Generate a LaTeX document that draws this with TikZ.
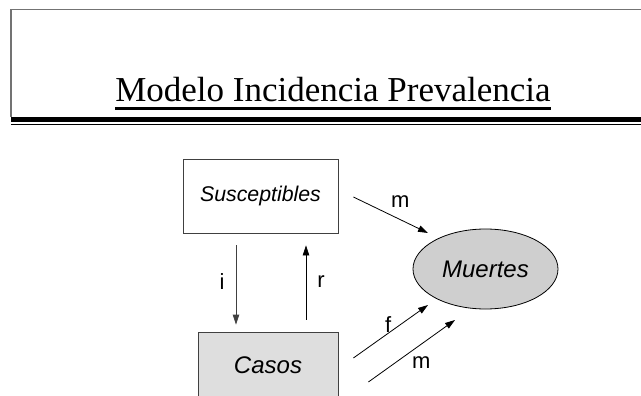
\documentclass[tikz,border=0pt]{standalone}
\usepackage{fontspec}
\setmainfont{Liberation Serif}
\setsansfont{Liberation Sans}
\usetikzlibrary{positioning,calc,shapes.geometric,arrows.meta}

\begin{document}
\begin{tikzpicture}[x=1pt,y=-1pt,
  box/.style={draw=black!75, line width=0.8pt, inner sep=0pt, font=\sffamily\itshape\fontsize{21.3}{25}\selectfont},
  flow/.style={line width=0.8pt, -{Triangle[length=10pt,width=6.5pt]}},
  lbl/.style={inner sep=0pt, text=black, font=\sffamily\fontsize{22}{26}\selectfont}]

\useasboundingbox (0,0) rectangle (641,396);

\draw[black!55, line width=1.5pt] (641,9.5) -- (11,9.5) -- (11,117);
\draw[line width=4.5pt] (11,119.6) -- (641,119.6);
\draw[line width=1.4pt] (11,124.8) -- (641,124.8);
\node[inner sep=0pt, anchor=base, font=\fontsize{35}{40}\selectfont] (title) at (333,102) {Modelo Incidencia Prevalencia};
\draw[line width=2.5pt] ([yshift=-6.3pt]title.base west) -- ([yshift=-6.3pt]title.base east);

\node[box, minimum width=155pt, minimum height=74pt] (sus) at (260.5,196) {Susceptibles\hspace{6pt}};
\node[box, fill=black!13, minimum width=140pt, minimum height=66pt, font=\sffamily\itshape\fontsize{24}{28}\selectfont] (casos) at (268,365) {Casos\hspace{10pt}};
\node[box, ellipse, draw=black, fill=black!19, minimum width=145pt, minimum height=80pt, font=\sffamily\itshape\fontsize{24}{28}\selectfont] (muertes) at (485.5,269) {Muertes};

\coordinate (i-top) at ($(sus.south)+(-24.5,12)$);
\coordinate (i-bot) at ($(casos.north)+(-32,-7)$);
\coordinate (r-bot) at ($(casos.north)+(38,-12)$);
\coordinate (r-top) at ($(sus.south)+(45.5,12)$);
\coordinate (m1-a) at ($(sus.east)+(15,1)$);
\coordinate (m1-b) at ($(muertes.center)+(-57.5,-36)$);
\coordinate (f-a) at ($(casos.east)+(15,-7)$);
\coordinate (f-b) at ($(muertes.center)+(-57.5,36)$);
\coordinate (m2-a) at ($(casos.east)+(30,17)$);
\coordinate (m2-b) at ($(muertes.center)+(-30.5,51)$);

\draw[flow, black!75] (i-top) -- (i-bot) node[lbl, midway, xshift=-14pt, yshift=3pt] (lbl-i) {i};
\draw[flow] (r-bot) -- (r-top) node[lbl, midway, xshift=15pt, yshift=1pt] (lbl-r) {r};
\draw[flow] (m1-a) -- (m1-b) node[lbl, midway, xshift=9.5pt, yshift=13pt] (lbl-m1) {m};
\draw[flow] (f-a) -- (f-b) node[lbl, midway, xshift=-2.5pt, yshift=7pt] (lbl-f) {f};
\draw[flow] (m2-a) -- (m2-b) node[lbl, midway, xshift=9.5pt, yshift=-11.5pt] (lbl-m2) {m};

\end{tikzpicture}
\end{document}
